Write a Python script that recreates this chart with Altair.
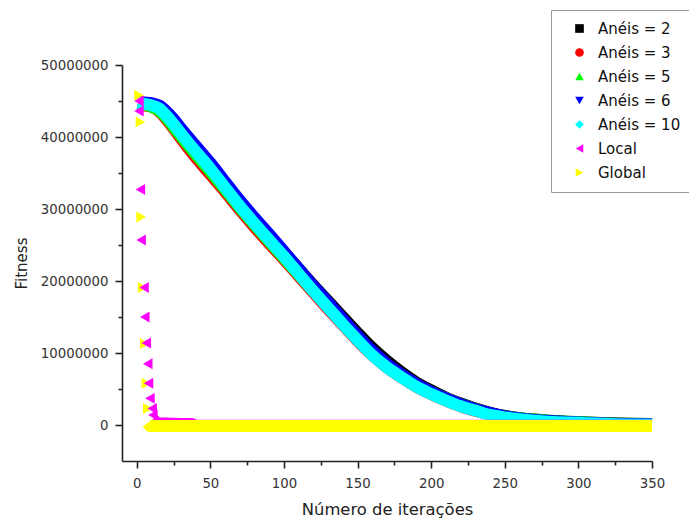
import altair as alt
import pandas as pd

# ---------------- data (values in millions for fitness) ----------------
SERIES = ["Anéis = 2", "Anéis = 3", "Anéis = 5", "Anéis = 6", "Anéis = 10", "Local", "Global"]
COLORS = ["#000000", "#ff0000", "#00ff00", "#0000ff", "#00ffff", "#ff00ff", "#ffff00"]
SHAPES = ["square", "circle", "triangle-up", "triangle-down", "diamond", "triangle-left", "triangle-right"]

RING_IT = [1, 5, 10, 15, 20, 25, 30, 40, 50, 60, 70, 80, 90, 100, 110, 120, 130, 140, 150,
           160, 170, 180, 190, 200, 210, 220, 230, 240, 250, 260, 270, 280, 300, 320, 350]
A2 = [44.7, 44.5, 44.3, 43.9, 43.1, 42.0, 40.8, 38.5, 36.1, 33.6, 31.0, 28.6, 26.3, 24.0, 21.7,
      19.4, 17.2, 15.0, 12.8, 10.7, 8.9, 7.3, 5.9, 4.8, 3.8, 3.0, 2.3, 1.7, 1.25, 0.95, 0.75,
      0.6, 0.4, 0.25, 0.15]
A3 = [44.6, 44.4, 44.2, 43.6, 42.5, 41.2, 39.8, 37.2, 34.8, 32.4, 29.9, 27.5, 25.2, 23.0, 20.7,
      18.4, 16.1, 13.9, 11.7, 9.7, 8.0, 6.6, 5.3, 4.3, 3.4, 2.6, 2.0, 1.5, 1.1, 0.85, 0.65,
      0.5, 0.3, 0.2, 0.1]
A5 = [44.7, 44.5, 44.2, 43.7, 42.7, 41.4, 40.1, 37.6, 35.2, 32.7, 30.2, 27.8, 25.5, 23.2, 20.9,
      18.6, 16.4, 14.2, 12.0, 10.0, 8.3, 6.9, 5.6, 4.6, 3.7, 2.9, 2.2, 1.6, 1.2, 0.95, 0.75,
      0.6, 0.4, 0.25, 0.15]
A6 = [44.9, 44.8, 44.7, 44.4, 43.6, 42.5, 41.2, 38.8, 36.4, 33.8, 31.2, 28.8, 26.5, 24.1, 21.7,
      19.3, 17.0, 14.7, 12.4, 10.3, 8.5, 7.0, 5.7, 4.6, 3.7, 2.9, 2.2, 1.65, 1.2, 0.9, 0.7,
      0.55, 0.35, 0.2, 0.1]
A10 = [44.8, 44.6, 44.4, 44.0, 43.0, 41.8, 40.5, 38.0, 35.6, 33.0, 30.4, 28.0, 25.7, 23.4, 21.0,
       18.6, 16.3, 14.0, 11.8, 9.7, 8.0, 6.6, 5.3, 4.3, 3.4, 2.6, 2.0, 1.4, 1.05, 0.8, 0.6,
       0.45, 0.3, 0.15, 0.05]

LOCAL_IT = [1.5, 1.5, 2.5, 3, 5, 5.5, 6.5, 7.5, 8, 9, 10.5, 11]
LOCAL_V = [45.0, 43.6, 32.7, 25.7, 19.1, 15.0, 11.4, 8.5, 5.8, 3.7, 2.3, 1.4]
LOCAL_TAIL_IT = [11, 14, 20, 30, 37, 40, 100, 200, 350]
LOCAL_TAIL_V = [0.8, 0.25, 0.2, 0.15, 0.15, -0.1, -0.1, -0.1, -0.1]

GLOBAL_IT = [1.5, 2.5, 3, 4, 5.5, 6.5, 7.5]
GLOBAL_V = [45.8, 42.1, 28.9, 19.1, 11.3, 5.8, 2.3]
GLOBAL_TAIL_IT = [7.5, 9, 20, 50, 100, 150, 200, 250, 300, 350]
GLOBAL_TAIL_V = [0.3, -0.15, -0.15, -0.15, -0.15, -0.15, -0.15, -0.15, -0.15, -0.15]

X_TICKS = [0, 25, 50, 75, 100, 125, 150, 175, 200, 225, 250, 275, 300, 325, 350]
Y_TICKS = [0, 5000000, 10000000, 15000000, 20000000, 25000000, 30000000,
           35000000, 40000000, 45000000, 50000000]

M = 1000000
rows = []
for name, vals in zip(SERIES[:5], [A2, A3, A5, A6, A10]):
    for it, v in zip(RING_IT, vals):
        rows.append({"serie": name, "it": it, "fit": v * M, "part": "curve"})
for it, v in zip(LOCAL_IT, LOCAL_V):
    rows.append({"serie": "Local", "it": it, "fit": v * M, "part": "pts"})
for it, v in zip(LOCAL_TAIL_IT, LOCAL_TAIL_V):
    rows.append({"serie": "Local", "it": it, "fit": v * M, "part": "tail"})
for it, v in zip(GLOBAL_IT, GLOBAL_V):
    rows.append({"serie": "Global", "it": it, "fit": v * M, "part": "pts"})
for it, v in zip(GLOBAL_TAIL_IT, GLOBAL_TAIL_V):
    rows.append({"serie": "Global", "it": it, "fit": v * M, "part": "tail"})
df = pd.DataFrame(rows)

FONT = "DejaVu Sans"
AX = dict(domainColor="#222", domainWidth=1.6, tickColor="#222", tickWidth=1.6,
          labelFont=FONT, labelFontSize=13.3, labelColor="#333", grid=False,
          titleFont=FONT, titleFontWeight="normal", titleColor="#222",
          labelFlush=False, labelOverlap=False, labelBound=False)

x = alt.X("it:Q", title="Número de iterações",
          scale=alt.Scale(domain=[-10, 350], nice=False, zero=False),
          axis=alt.Axis(values=X_TICKS,
                        labelExpr="datum.value % 50 === 0 ? datum.label : ''",
                        tickSize={"condition": {"test": "datum.value % 50 === 0", "value": 7}, "value": 4},
                        labelPadding=8, titleFontSize=16.4, titlePadding=12, **AX))
y = alt.Y("fit:Q", title="Fitness",
          scale=alt.Scale(domain=[-5000000, 50000000], nice=False, zero=False),
          axis=alt.Axis(values=Y_TICKS, format="d",
                        labelExpr="datum.value % 10000000 === 0 ? datum.label : ''",
                        tickSize={"condition": {"test": "datum.value % 10000000 === 0", "value": 7}, "value": 4},
                        labelPadding=7, titleFontSize=15, titlePadding=11, **AX))

leg = alt.Legend(title=None, orient="none", legendX=429, legendY=-55, padding=11,
                 symbolOffset=10, labelOffset=11, rowPadding=8, labelFontSize=15,
                 labelFont=FONT, labelColor="#111", symbolSize=75, symbolOpacity=1,
                 symbolStrokeWidth=0, strokeColor="#999", fillColor="white", labelLimit=200,
                 labelExpr="(datum.label == 'Local' || datum.label == 'Global') ? '\u00a0' + datum.label : datum.label")

legend_layer = alt.Chart().mark_point(filled=True, opacity=0, size=1).encode(
    x=x, y=y,
    color=alt.Color("serie:N", scale=alt.Scale(domain=SERIES, range=COLORS), legend=leg),
    shape=alt.Shape("serie:N", scale=alt.Scale(domain=SERIES, range=SHAPES), legend=leg),
)

layers = [legend_layer]
for name, col in zip(SERIES[:5], COLORS[:5]):
    layers.append(
        alt.Chart().transform_filter(alt.datum.serie == name)
        .mark_line(color=col, strokeWidth=12, strokeJoin="round", interpolate="monotone")
        .encode(x=x, y=y)
    )

for name, col in [("Local", "#ff00ff"), ("Global", "#ffff00")]:
    layers.append(
        alt.Chart().transform_filter((alt.datum.serie == name) & (alt.datum.part == "tail"))
        .mark_line(color=col, strokeWidth=12, strokeJoin="round")
        .encode(x=x, y=y)
    )
for name, col, shp in [("Global", "#ffff00", "triangle-right"), ("Local", "#ff00ff", "triangle-left")]:
    layers.append(
        alt.Chart().transform_filter((alt.datum.serie == name) & (alt.datum.part == "pts"))
        .mark_point(color=col, fill=col, filled=True, opacity=1, shape=shp, size=120, strokeWidth=0)
        .encode(x=x, y=y)
    )

chart = alt.layer(*layers, data=df).properties(
    width=530, height=396,
    padding={"left": 122, "top": 65, "right": 37, "bottom": 62},
    autosize=alt.AutoSizeParams(type="none"),
    background="white",
).configure_view(stroke=None)

chart.save("out.html", embed_options={"renderer": "svg", "actions": False})
